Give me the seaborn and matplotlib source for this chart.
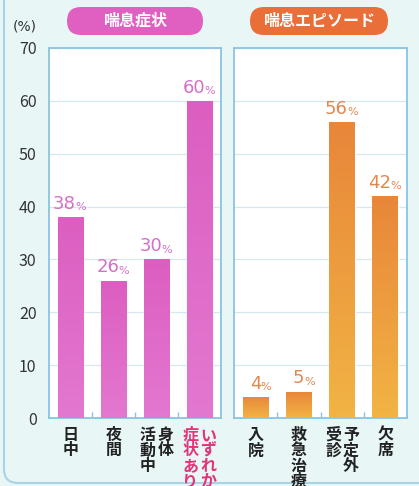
import numpy as np
import seaborn as sns
import matplotlib.pyplot as plt
import pandas as pd
from matplotlib.patches import FancyBboxPatch
from matplotlib.colors import LinearSegmentedColormap
import matplotlib.transforms as mtransforms

# data
symptom_cols = [["日中"], ["夜間"], ["身体", "活動中"], ["いずれか", "症状あり"]]
symptom_vals = [38, 26, 30, 60]
episode_cols = [["入院"], ["救急治療"], ["予定外", "受診"], ["欠席"]]
episode_vals = [4, 5, 56, 42]
yticks = [0, 10, 20, 30, 40, 50, 60, 70]

sns.set_theme(style="white")
plt.rcParams['font.family'] = ['Noto Sans CJK JP', 'DejaVu Sans']

bg = "#e8f6f6"
frame = "#8cc3e2"
grid_c = "#d6e8ee"

fig = plt.figure(figsize=(4.19, 4.86), dpi=100, facecolor=bg)

# outer rounded frame (only left and bottom edges show)
outer = FancyBboxPatch((0.04, 0.03), 5.0, 6.0, boxstyle="round,pad=0,rounding_size=0.14",
                       transform=fig.dpi_scale_trans, facecolor=bg, edgecolor="#a8d4e6",
                       linewidth=1.5, zorder=-10)
fig.patches.append(outer)

ax1 = fig.add_axes([49 / 419, 68 / 486, 172 / 419, 370 / 486])
ax2 = fig.add_axes([234 / 419, 68 / 486, 173 / 419, 370 / 486])

panels = [
    (ax1, symptom_cols, symptom_vals, ("#e378d0", "#dc5ec0"), "#d470c6"),
    (ax2, episode_cols, episode_vals, ("#f2b444", "#e8863a"), "#e2884c"),
]

for ax, cols, vals, (c_bot, c_top), lab_c in panels:
    names = ["".join(c) for c in cols]
    df = pd.DataFrame({"item": names, "pct": vals})
    sns.barplot(data=df, x="item", y="pct", color=c_top, width=0.6, ax=ax, zorder=2)
    ax.set_facecolor("white")
    ax.set_ylim(0, 70)
    ax.set_xlim(-0.5, 3.5)
    ax.set_yticks(yticks)
    ax.yaxis.grid(True, color=grid_c, linewidth=0.9, zorder=0)
    ax.set_axisbelow(True)
    ax.set_xlabel("")
    ax.set_ylabel("")
    ax.set_xticks([])
    ax.set_xticks([0.5, 1.5, 2.5], minor=True)
    ax.tick_params(axis="x", which="minor", direction="in", length=4, color=frame, width=1, bottom=True)
    for s in ax.spines.values():
        s.set_color(frame)
        s.set_linewidth(1.3)

    # gradient fill clipped to every bar, bottom light -> top dark
    cmap = LinearSegmentedColormap.from_list("g", [c_bot, c_top])
    grad = np.linspace(0, 1, 256).reshape(-1, 1)
    for p in ax.patches:
        x0, y0 = p.get_x(), p.get_y()
        w, h = p.get_width(), p.get_height()
        im = ax.imshow(grad, cmap=cmap, aspect="auto", origin="lower",
                       extent=[x0, x0 + w, y0, y0 + h], zorder=3)
        im.set_clip_path(p)
    ax.set_xlim(-0.5, 3.5)
    ax.set_ylim(0, 70)

    # value labels, number large and % small
    for i, v in enumerate(vals):
        ax.annotate(str(v), xy=(i, v), xytext=(4, 3), textcoords="offset points",
                    ha="right", va="bottom", fontsize=13, color=lab_c, family="DejaVu Sans")
        ax.annotate("%", xy=(i, v), xytext=(3.6, 3.5), textcoords="offset points",
                    ha="left", va="bottom", fontsize=8, color=lab_c, family="DejaVu Sans")

    # vertical (tategaki) category labels, columns read right to left
    trans = mtransforms.blended_transform_factory(ax.transData, ax.transAxes)
    for i, c in enumerate(cols):
        n = len(c)
        tc = "#e23478" if c[0] == "いずれか" else "#222222"
        for j, col in enumerate(c):
            dx = ((n - 1) / 2 - j) * 13
            ax.annotate("\n".join(col), xy=(i, 0), xycoords=trans, xytext=(dx, -6.5),
                        textcoords="offset points", ha="center", va="top",
                        fontsize=11.5, linespacing=0.95, color=tc, fontweight="bold",
                        annotation_clip=False)

ax1.tick_params(axis="y", length=0, pad=9, labelsize=11.5, labelcolor="#333333")
ax2.tick_params(axis="y", length=0, labelleft=False)

fig.text(25 / 419, 1 - 27 / 486, "(%)", ha="center", va="center", fontsize=10, color="#333333",
         family="DejaVu Sans")

# header pills
for x0, w, txt, col in [(0.67, 1.36, "喘息症状", "#e060c2"), (2.50, 1.38, "喘息エピソード", "#e96e38")]:
    pill = FancyBboxPatch((x0, 4.51), w, 0.28, boxstyle="round,pad=0,rounding_size=0.14",
                          transform=fig.dpi_scale_trans, facecolor=col, edgecolor="none")
    fig.patches.append(pill)
    fig.text((x0 + w / 2) / 4.19, (4.51 + 0.14) / 4.86, txt, ha="center", va="center",
             fontsize=11.5, color="white", fontweight="bold")

fig.savefig("out.png", dpi=100, facecolor=bg)
